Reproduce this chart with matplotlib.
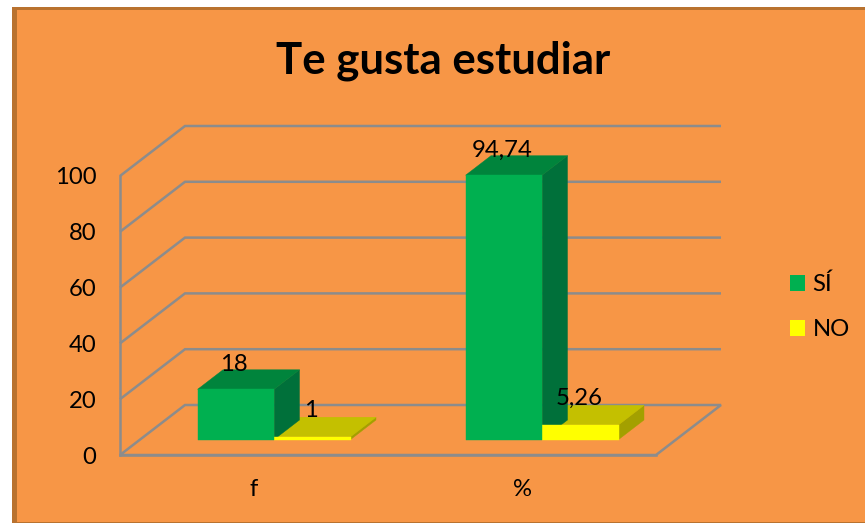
import matplotlib
matplotlib.use("Agg")
import matplotlib.pyplot as plt
from matplotlib.patches import Polygon, Rectangle, Patch

categories = ["f", "%"]
si_values = [18, 94.74]
no_values = [1, 5.26]
si_labels = ["18", "94,74"]
no_labels = ["1", "5,26"]
series_names = ["SÍ", "NO"]
y_ticks = [0, 20, 40, 60, 80, 100]
title = "Te gusta estudiar"

W, H = 865, 523
PX_CAT = 268.0          # pixels per category
PX_VAL = 2.79           # pixels per value unit
X0, Y0 = 254.0, 455.0   # pixel of category 0 / value 0
DX, DY = 65.0, 50.0     # depth of the 3D box in pixels
BAR_W = 76.5 / PX_CAT
D0, D1 = 0.31, 0.70     # depth range of the bars
FS = 17.2

plt.rcParams["font.family"] = ["Lato", "DejaVu Sans"]
fig = plt.figure(figsize=(W / 100, H / 100), dpi=100, facecolor="white")

# panel
def fig_rect(x0, y0, x1, y1, color):
    fig.add_artist(Rectangle((x0 / W, 1 - y1 / H), (x1 - x0) / W, (y1 - y0) / H,
                             transform=fig.transFigure, facecolor=color,
                             edgecolor="none", zorder=-5))
fig_rect(12, 7, W, H, "#B9722F")
fig_rect(17, 10, W, 522, "#F79646")

ax = fig.add_axes([0, 0, 1, 1], facecolor="none")
ax.set_xlim((0 - X0) / PX_CAT, (W - X0) / PX_CAT)
ax.set_ylim((Y0 - H) / PX_VAL, Y0 / PX_VAL)

def P(x, v, d=0.0):
    """Category/value/depth -> data coordinates on the oblique projection."""
    return (x + d * DX / PX_CAT, v + d * DY / PX_VAL)

GRID = "#8C8C8C"
LW = 1.8
xl, xr = -0.5, 1.5

# walls and floor
for v in y_ticks[1:]:
    pts = [P(xl, v), P(xl, v, 1), P(xr, v, 1)]
    ax.plot(*zip(*pts), color=GRID, lw=LW, solid_joinstyle="miter",
            solid_capstyle="butt", zorder=1)
floor = [P(xl, 0), P(xr, 0), P(xr, 0, 1), P(xl, 0, 1)]
ax.add_patch(Polygon(floor, closed=True, facecolor="none", edgecolor=GRID, lw=LW, zorder=1))

def bar3d(x0, x1, v, front, top, side):
    ax.add_patch(Polygon([P(x1, 0, D0), P(x1, v, D0), P(x1, v, D1), P(x1, 0, D1)],
                         facecolor=side, edgecolor=side, lw=0.3, zorder=3))
    ax.add_patch(Polygon([P(x0, v, D0), P(x1, v, D0), P(x1, v, D1), P(x0, v, D1)],
                         facecolor=top, edgecolor=top, lw=0.3, zorder=3))
    ax.add_patch(Rectangle(P(x0, 0, D0), x1 - x0, v,
                           facecolor=front, edgecolor=front, lw=0.3, zorder=4))

TXT = {"fontsize": FS, "color": "black", "ha": "center", "va": "center", "zorder": 6}
for i in range(len(categories)):
    # NO is drawn first so the SÍ box sits on top of it where they meet
    bar3d(i, i + BAR_W, no_values[i], "#FFFF00", "#C4C000", "#A3A000")
    bar3d(i - BAR_W, i, si_values[i], "#00B050", "#00843C", "#00703A")
    ax.annotate(si_labels[i], P(i - BAR_W / 2, si_values[i], D0), xytext=(-2, 25),
                textcoords="offset pixels", **TXT)
    ax.annotate(no_labels[i], P(i + BAR_W / 2, no_values[i], D0), xytext=(-1, 26),
                textcoords="offset pixels", **TXT)

# axes
for s in ("top", "right"):
    ax.spines[s].set_visible(False)
ax.spines["left"].set_position(("data", xl))
ax.spines["left"].set_bounds(0, 100)
ax.spines["bottom"].set_position(("data", 0))
ax.spines["bottom"].set_bounds(xl, xr)
for s in ("left", "bottom"):
    ax.spines[s].set_color(GRID)
    ax.spines[s].set_linewidth(LW)
    ax.spines[s].set_zorder(2)
ax.set_yticks(y_ticks)
ax.set_yticklabels([str(t) for t in y_ticks])
ax.set_xticks(range(len(categories)))
ax.set_xticklabels(categories)
ax.tick_params(axis="y", length=0, pad=17, labelsize=FS)
ax.tick_params(axis="x", length=0, pad=17, labelsize=FS)

fig.text(443 / W, 1 - 60.5 / H, title, fontsize=31.5, fontweight="bold",
         ha="center", va="center", color="black")

handles = [Patch(facecolor="#00B050", edgecolor="none"), Patch(facecolor="#FFFF00", edgecolor="none")]
ax.legend(handles, series_names, loc="center left",
          bbox_to_anchor=(785 / W, 1 - 307 / H), frameon=False, fontsize=FS,
          handlelength=0.63, handleheight=0.63, handletextpad=0.32,
          labelspacing=1.0, borderpad=0.2, borderaxespad=0)

fig.savefig("out.png", dpi=100, facecolor=fig.get_facecolor())
